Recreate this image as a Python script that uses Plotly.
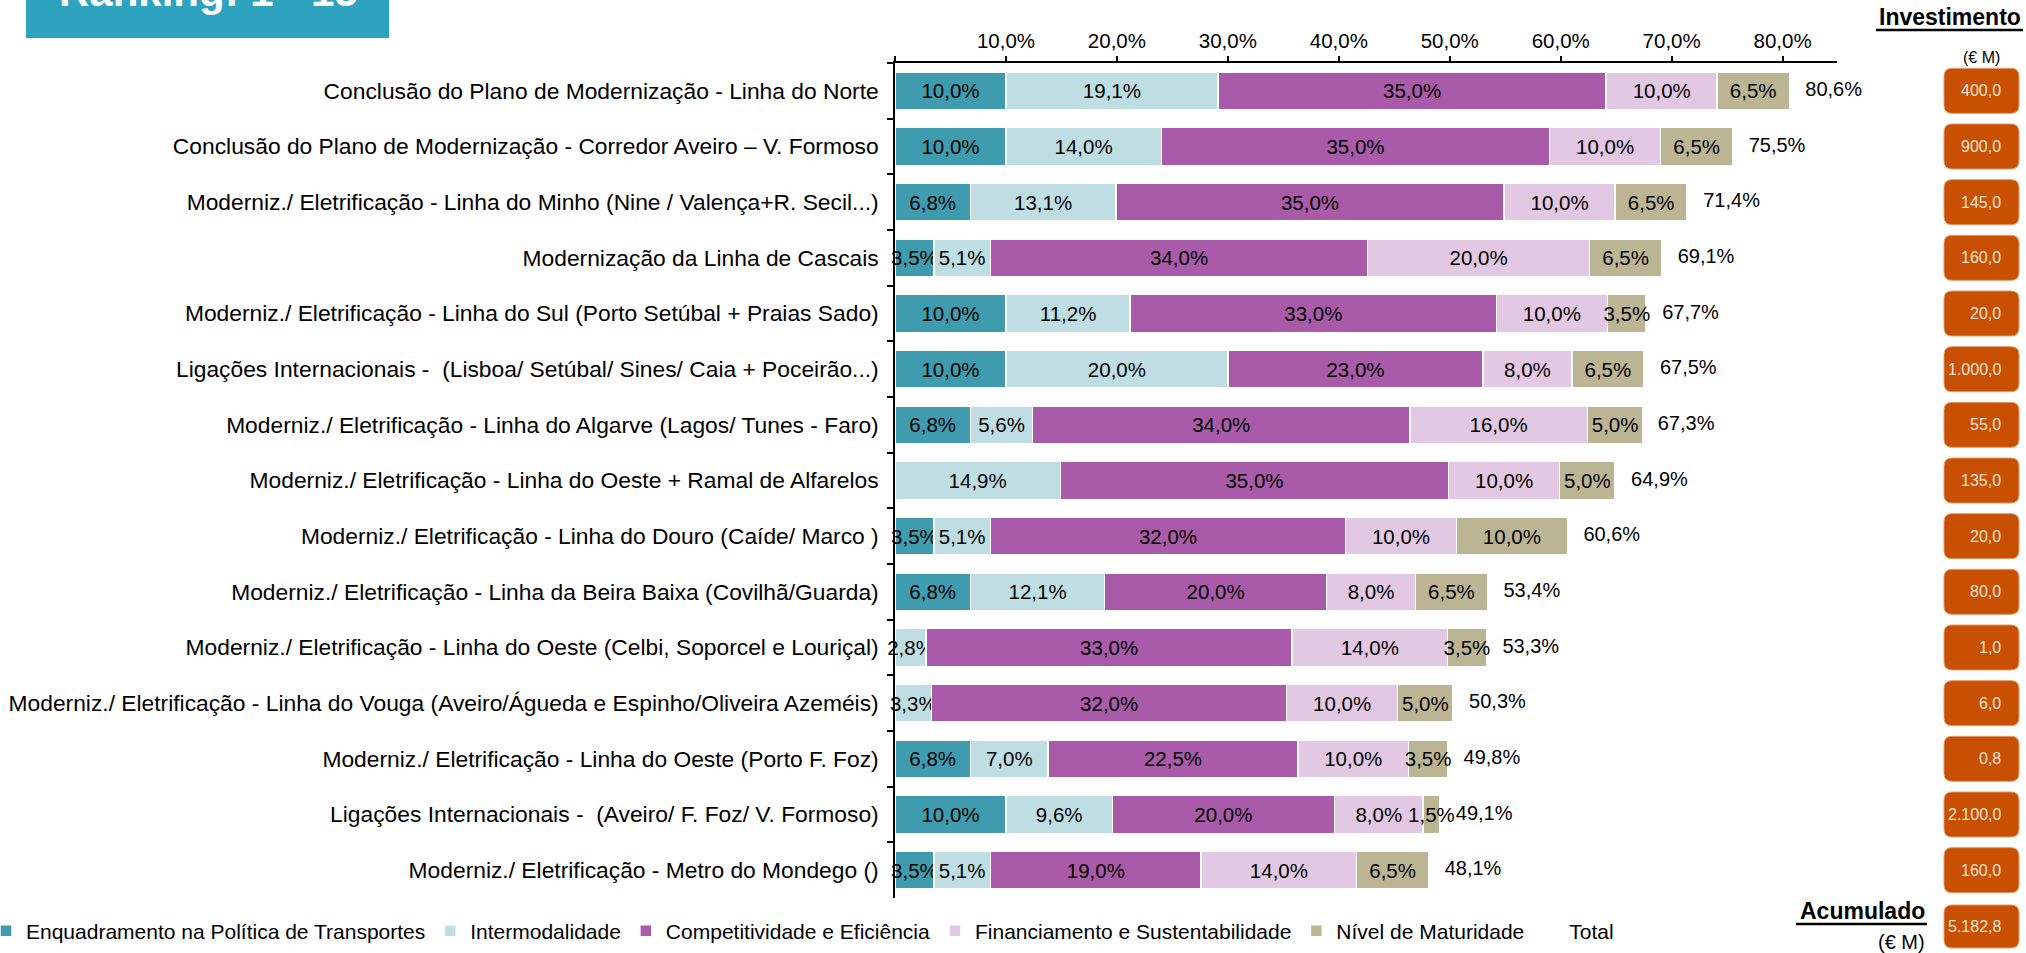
import plotly.graph_objects as go

# ---------------------------------------------------------------- data
projects = [
    "Conclusão do Plano de Modernização - Linha do Norte",
    "Conclusão do Plano de Modernização - Corredor Aveiro – V. Formoso",
    "Moderniz./ Eletrificação - Linha do Minho (Nine / Valença+R. Secil...)",
    "Modernização da Linha de Cascais",
    "Moderniz./ Eletrificação - Linha do Sul (Porto Setúbal + Praias Sado)",
    "Ligações Internacionais -  (Lisboa/ Setúbal/ Sines/ Caia + Poceirão...)",
    "Moderniz./ Eletrificação - Linha do Algarve (Lagos/ Tunes - Faro)",
    "Moderniz./ Eletrificação - Linha do Oeste + Ramal de Alfarelos",
    "Moderniz./ Eletrificação - Linha do Douro (Caíde/ Marco )",
    "Moderniz./ Eletrificação - Linha da Beira Baixa (Covilhã/Guarda)",
    "Moderniz./ Eletrificação - Linha do Oeste (Celbi, Soporcel e Louriçal)",
    "Moderniz./ Eletrificação - Linha do Vouga (Aveiro/Águeda e Espinho/Oliveira Azeméis)",
    "Moderniz./ Eletrificação - Linha do Oeste (Porto F. Foz)",
    "Ligações Internacionais -  (Aveiro/ F. Foz/ V. Formoso)",
    "Moderniz./ Eletrificação - Metro do Mondego ()",
]

enquadramento = [10.0, 10.0, 6.8, 3.5, 10.0, 10.0, 6.8, 0.0, 3.5, 6.8, 0.0, 0.0, 6.8, 10.0, 3.5]
intermodalidade = [19.1, 14.0, 13.1, 5.1, 11.2, 20.0, 5.6, 14.9, 5.1, 12.1, 2.8, 3.3, 7.0, 9.6, 5.1]
competitividade = [35.0, 35.0, 35.0, 34.0, 33.0, 23.0, 34.0, 35.0, 32.0, 20.0, 33.0, 32.0, 22.5, 20.0, 19.0]
financiamento = [10.0, 10.0, 10.0, 20.0, 10.0, 8.0, 16.0, 10.0, 10.0, 8.0, 14.0, 10.0, 10.0, 8.0, 14.0]
maturidade = [6.5, 6.5, 6.5, 6.5, 3.5, 6.5, 5.0, 5.0, 10.0, 6.5, 3.5, 5.0, 3.5, 1.5, 6.5]
totals = [80.6, 75.5, 71.4, 69.1, 67.7, 67.5, 67.3, 64.9, 60.6, 53.4, 53.3, 50.3, 49.8, 49.1, 48.1]
investimento = [400.0, 900.0, 145.0, 160.0, 20.0, 1000.0, 55.0, 135.0, 20.0, 80.0, 1.0, 6.0, 0.8, 2100.0, 160.0]

x_ticks = [0, 10, 20, 30, 40, 50, 60, 70, 80]

series = [
    ("Enquadramento na Política de Transportes", enquadramento, "#3F9BAE"),
    ("Intermodalidade", intermodalidade, "#BEDEE3"),
    ("Competitividade e Eficiência", competitividade, "#A95BA9"),
    ("Financiamento e Sustentabilidade", financiamento, "#E2C8E2"),
    ("Nível de Maturidade", maturidade, "#BCB594"),
]

# ---------------------------------------------------------------- layout geometry (px)
W, H = 2026, 953
L, R, T, B = 895, 1837, 63, 898
FONT = "Liberation Sans, Arial, sans-serif"


def px2x(px):
    return (px - L) / (R - L)


def px2y(py):
    return (B - py) / (B - T)


def pct(v):
    return f"{v:.1f}".replace(".", ",") + "%"


def eur(v):
    return f"{v:,.1f}".replace(",", " ").replace(".", ",").replace(" ", ".")


def rounded_box(x0, y0, x1, y1, r):
    pts = [
        ("M", x0 + r, y0), ("L", x1 - r, y0), ("Q", x1, y0, x1, y0 + r),
        ("L", x1, y1 - r), ("Q", x1, y1, x1 - r, y1), ("L", x0 + r, y1),
        ("Q", x0, y1, x0, y1 - r), ("L", x0, y0 + r), ("Q", x0, y0, x0 + r, y0),
    ]
    out = []
    for p in pts:
        cmd, coords = p[0], p[1:]
        conv = []
        for i in range(0, len(coords), 2):
            conv.append(f"{px2x(coords[i]):.5f},{px2y(coords[i + 1]):.5f}")
        out.append(cmd + " " + " ".join(conv))
    return " ".join(out) + " Z"


fig = go.Figure()

for name, vals, color in series:
    fig.add_trace(go.Bar(
        name=name,
        y=projects,
        x=vals,
        orientation="h",
        marker=dict(color=color, line=dict(color="white", width=1.5)),
        text=[pct(v) if v > 0 else "" for v in vals],
        textposition="inside",
        insidetextanchor="middle",
        constraintext="none",
        textangle=0,
        textfont=dict(family=FONT, size=20.5, color="black"),
        cliponaxis=False,
        hoverinfo="skip",
    ))

fig.add_trace(go.Scatter(
    name="Total",
    y=projects,
    x=totals,
    mode="markers+text",
    marker=dict(size=24, color="rgba(0,0,0,0)"),
    text=[pct(v) for v in totals],
    textposition="middle right",
    textfont=dict(family=FONT, size=20, color="black"),
    cliponaxis=False,
    hoverinfo="skip",
))

shapes = []
annotations = []

# title banner
shapes.append(dict(type="rect", xref="paper", yref="paper",
                   x0=px2x(26), x1=px2x(389), y0=px2y(38), y1=px2y(-5),
                   fillcolor="#2EA3BF", line=dict(width=0), layer="above"))
annotations.append(dict(xref="paper", yref="paper", x=px2x(208), y=px2y(17),
                        xanchor="center", yanchor="bottom", showarrow=False,
                        text="<b>Ranking: 1 - 15</b>",
                        font=dict(family=FONT, size=42, color="white")))

# investment column
annotations.append(dict(xref="paper", yref="paper", x=px2x(2023), y=px2y(17),
                        xanchor="right", yanchor="middle", showarrow=False,
                        text="<b>Investimento</b>",
                        font=dict(family=FONT, size=23, color="black")))
shapes.append(dict(type="line", xref="paper", yref="paper",
                   x0=px2x(1876), x1=px2x(2023), y0=px2y(30), y1=px2y(30),
                   line=dict(color="black", width=2.5)))
annotations.append(dict(xref="paper", yref="paper", x=px2x(1981), y=px2y(57),
                        xanchor="center", yanchor="middle", showarrow=False,
                        text="(€ M)",
                        font=dict(family=FONT, size=16, color="black")))

row_h = (B - T) / len(projects)
box_fill = "#C85000"
box_line = "#E39A6A"
box_text = "#FCE4D6"
for i, v in enumerate(investimento):
    cy = T + (i + 0.5) * row_h
    shapes.append(dict(type="path", xref="paper", yref="paper",
                       path=rounded_box(1944, cy - 22.5, 2019, cy + 22.5, 8),
                       fillcolor=box_fill, line=dict(color=box_line, width=1)))
    annotations.append(dict(xref="paper", yref="paper", x=px2x(2003), y=px2y(cy),
                            xanchor="right", yanchor="middle", showarrow=False,
                            text=eur(v),
                            font=dict(family=FONT, size=16, color=box_text)))

# accumulated total
acumulado = sum(investimento)
shapes.append(dict(type="path", xref="paper", yref="paper",
                   path=rounded_box(1944, 905, 2019, 948, 8),
                   fillcolor=box_fill, line=dict(color=box_line, width=1)))
annotations.append(dict(xref="paper", yref="paper", x=px2x(2003), y=px2y(926),
                        xanchor="right", yanchor="middle", showarrow=False,
                        text=eur(acumulado),
                        font=dict(family=FONT, size=16, color=box_text)))
annotations.append(dict(xref="paper", yref="paper", x=px2x(1927), y=px2y(911),
                        xanchor="right", yanchor="middle", showarrow=False,
                        text="<b>Acumulado</b>",
                        font=dict(family=FONT, size=23, color="black")))
shapes.append(dict(type="line", xref="paper", yref="paper",
                   x0=px2x(1796), x1=px2x(1927), y0=px2y(924), y1=px2y(924),
                   line=dict(color="black", width=2.5)))
annotations.append(dict(xref="paper", yref="paper", x=px2x(1927), y=px2y(942),
                        xanchor="right", yanchor="middle", showarrow=False,
                        text="(€ M)",
                        font=dict(family=FONT, size=20, color="black")))

fig.update_layout(
    template="none",
    width=W, height=H, autosize=False,
    margin=dict(l=L, r=W - R, t=T, b=H - B, pad=0, autoexpand=False),
    barmode="stack",
    bargap=0.32,
    separators=",.",
    paper_bgcolor="white",
    plot_bgcolor="white",
    font=dict(family=FONT, size=20, color="black"),
    showlegend=True,
    legend=dict(orientation="h", x=px2x(-14), y=px2y(931),
                xanchor="left", yanchor="middle",
                font=dict(family=FONT, size=21, color="black"),
                itemwidth=30, traceorder="normal",
                bgcolor="rgba(0,0,0,0)"),
    shapes=shapes,
    annotations=annotations,
)

fig.update_xaxes(
    side="top",
    range=[0, 84.9],
    tickvals=x_ticks,
    ticktext=["" if t == 0 else pct(t) for t in x_ticks],
    ticks="outside", ticklen=5, tickwidth=1.5, tickcolor="black",
    showline=True, linecolor="black", linewidth=2,
    showgrid=False, zeroline=False, automargin=False,
    tickfont=dict(family=FONT, size=20.5, color="black"),
    ticklabelstandoff=0,
    fixedrange=True,
)
fig.update_yaxes(
    type="category",
    range=[len(projects) - 0.5, -0.5],
    ticks="outside", tickson="boundaries", ticklen=6, tickwidth=1.5, tickcolor="black",
    showline=True, linecolor="black", linewidth=1.5,
    showgrid=False, zeroline=False, automargin=False,
    tickfont=dict(family=FONT, size=22.8, color="black"),
    ticklabelstandoff=10,
    fixedrange=True,
)

fig.write_html("out.html")
